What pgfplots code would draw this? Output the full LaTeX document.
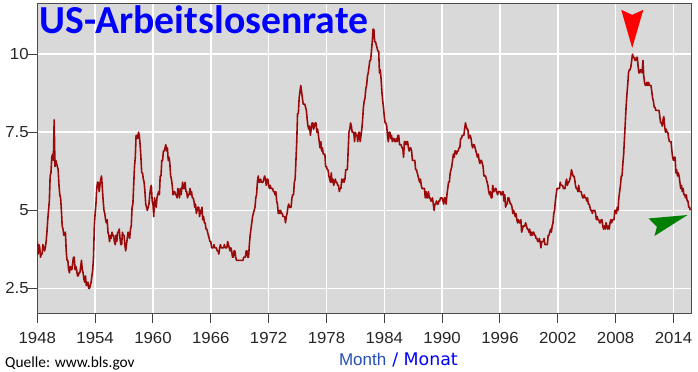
\documentclass[border=0pt]{standalone}
\usepackage{pgfplots}
\pgfplotsset{compat=1.18}
\usepackage{pgfplotstable}
\usepackage{fontspec}
\usetikzlibrary{calc}
\setmainfont{DejaVu Sans}
\newfontfamily\titlefont{Carlito}
\newfontfamily\tickfont[FakeStretch=1.05]{Liberation Sans}
\newfontfamily\arialfont{Liberation Sans}
\definecolor{bggray}{RGB}{217,217,217}
\definecolor{linered}{RGB}{155,10,10}
\definecolor{monthblue}{RGB}{35,80,180}
\definecolor{arrowgreen}{RGB}{0,128,0}

\pgfplotstableread[row sep=\\]{
y\\
4.0\\3.6\\3.9\\3.8\\3.5\\3.6\\3.6\\3.9\\3.8\\3.7\\3.8\\4.0\\
4.3\\4.7\\5.0\\5.3\\6.1\\6.2\\6.7\\6.8\\6.6\\7.9\\6.4\\6.6\\
6.5\\6.4\\6.3\\5.8\\5.5\\5.4\\5.0\\4.5\\4.4\\4.2\\4.2\\4.3\\
3.7\\3.4\\3.4\\3.1\\3.0\\3.2\\3.1\\3.1\\3.3\\3.5\\3.5\\3.1\\
3.2\\3.1\\2.9\\2.9\\3.0\\3.0\\3.2\\3.4\\3.1\\3.0\\2.8\\2.7\\
2.9\\2.6\\2.6\\2.7\\2.5\\2.5\\2.6\\2.7\\2.9\\3.1\\3.5\\4.5\\
4.9\\5.2\\5.7\\5.9\\5.9\\5.6\\5.8\\6.0\\6.1\\5.7\\5.3\\5.0\\
4.9\\4.7\\4.6\\4.7\\4.3\\4.2\\4.0\\4.2\\4.1\\4.3\\4.2\\4.2\\
4.0\\3.9\\4.2\\4.0\\4.3\\4.3\\4.4\\4.1\\3.9\\3.9\\4.3\\4.2\\
4.2\\3.9\\3.7\\3.9\\4.1\\4.3\\4.2\\4.1\\4.4\\4.5\\5.1\\5.2\\
5.8\\6.4\\6.7\\7.4\\7.4\\7.3\\7.5\\7.4\\7.1\\6.7\\6.2\\6.2\\
6.0\\5.9\\5.6\\5.2\\5.1\\5.0\\5.1\\5.2\\5.5\\5.7\\5.8\\5.3\\
5.2\\4.8\\5.4\\5.2\\5.1\\5.4\\5.5\\5.6\\5.5\\6.1\\6.1\\6.6\\
6.6\\6.9\\6.9\\7.0\\7.1\\6.9\\7.0\\6.6\\6.7\\6.5\\6.1\\6.0\\
5.8\\5.5\\5.6\\5.6\\5.5\\5.5\\5.4\\5.7\\5.6\\5.4\\5.7\\5.5\\
5.7\\5.9\\5.7\\5.7\\5.9\\5.6\\5.6\\5.4\\5.5\\5.5\\5.7\\5.5\\
5.6\\5.4\\5.4\\5.3\\5.1\\5.2\\4.9\\5.0\\5.1\\5.1\\4.8\\5.0\\
4.9\\5.1\\4.7\\4.8\\4.6\\4.6\\4.4\\4.4\\4.3\\4.2\\4.1\\4.0\\
4.0\\3.8\\3.8\\3.8\\3.9\\3.8\\3.8\\3.8\\3.7\\3.7\\3.6\\3.8\\
3.9\\3.8\\3.8\\3.8\\3.8\\3.9\\3.8\\3.8\\3.8\\4.0\\3.9\\3.8\\
3.7\\3.8\\3.7\\3.5\\3.5\\3.7\\3.7\\3.5\\3.4\\3.4\\3.4\\3.4\\
3.4\\3.4\\3.4\\3.4\\3.4\\3.5\\3.5\\3.5\\3.7\\3.7\\3.5\\3.5\\
3.9\\4.2\\4.4\\4.6\\4.8\\4.9\\5.0\\5.1\\5.4\\5.5\\5.9\\6.1\\
5.9\\5.9\\6.0\\5.9\\5.9\\5.9\\6.0\\6.1\\6.0\\5.8\\6.0\\6.0\\
5.8\\5.7\\5.8\\5.7\\5.7\\5.7\\5.6\\5.6\\5.5\\5.6\\5.3\\5.2\\
4.9\\5.0\\4.9\\5.0\\4.9\\4.9\\4.8\\4.8\\4.8\\4.6\\4.8\\4.9\\
5.1\\5.2\\5.1\\5.1\\5.1\\5.4\\5.5\\5.5\\5.9\\6.0\\6.6\\7.2\\
8.1\\8.1\\8.6\\8.8\\9.0\\8.8\\8.6\\8.4\\8.4\\8.4\\8.3\\8.2\\
7.9\\7.7\\7.6\\7.7\\7.4\\7.6\\7.8\\7.8\\7.6\\7.7\\7.8\\7.8\\
7.5\\7.6\\7.4\\7.2\\7.0\\7.2\\6.9\\7.0\\6.8\\6.8\\6.8\\6.4\\
6.4\\6.3\\6.3\\6.1\\6.0\\5.9\\6.2\\5.9\\6.0\\5.8\\5.9\\6.0\\
5.9\\5.9\\5.8\\5.8\\5.6\\5.7\\5.7\\6.0\\5.9\\6.0\\5.9\\6.0\\
6.3\\6.3\\6.3\\6.9\\7.5\\7.6\\7.8\\7.7\\7.5\\7.5\\7.5\\7.2\\
7.5\\7.4\\7.4\\7.2\\7.5\\7.5\\7.2\\7.4\\7.6\\7.9\\8.3\\8.5\\
8.6\\8.9\\9.0\\9.3\\9.4\\9.6\\9.8\\9.8\\10.1\\10.4\\10.8\\10.8\\
10.4\\10.4\\10.3\\10.2\\10.1\\10.1\\9.4\\9.5\\9.2\\8.8\\8.5\\8.3\\
8.0\\7.8\\7.8\\7.7\\7.4\\7.2\\7.5\\7.5\\7.3\\7.4\\7.2\\7.3\\
7.3\\7.2\\7.2\\7.3\\7.2\\7.4\\7.4\\7.1\\7.1\\7.1\\7.0\\7.0\\
6.7\\7.2\\7.2\\7.1\\7.2\\7.2\\7.0\\6.9\\7.0\\7.0\\6.9\\6.6\\
6.6\\6.6\\6.6\\6.3\\6.3\\6.2\\6.1\\6.0\\5.9\\6.0\\5.8\\5.7\\
5.7\\5.7\\5.7\\5.4\\5.6\\5.4\\5.4\\5.6\\5.4\\5.4\\5.3\\5.3\\
5.4\\5.2\\5.0\\5.2\\5.2\\5.3\\5.2\\5.2\\5.3\\5.3\\5.4\\5.4\\
5.4\\5.3\\5.2\\5.4\\5.4\\5.2\\5.5\\5.7\\5.9\\5.9\\6.2\\6.3\\
6.4\\6.6\\6.8\\6.7\\6.9\\6.9\\6.8\\6.9\\6.9\\7.0\\7.0\\7.3\\
7.3\\7.4\\7.4\\7.4\\7.6\\7.8\\7.7\\7.6\\7.6\\7.3\\7.4\\7.4\\
7.3\\7.1\\7.0\\7.1\\7.1\\7.0\\6.9\\6.8\\6.7\\6.8\\6.6\\6.5\\
6.6\\6.6\\6.5\\6.4\\6.1\\6.1\\6.1\\6.0\\5.9\\5.8\\5.6\\5.5\\
5.6\\5.4\\5.4\\5.8\\5.6\\5.6\\5.7\\5.7\\5.6\\5.5\\5.6\\5.6\\
5.6\\5.5\\5.5\\5.6\\5.6\\5.3\\5.5\\5.1\\5.2\\5.2\\5.4\\5.4\\
5.3\\5.2\\5.2\\5.1\\4.9\\5.0\\4.9\\4.8\\4.9\\4.7\\4.6\\4.7\\
4.6\\4.6\\4.7\\4.3\\4.4\\4.5\\4.5\\4.5\\4.6\\4.5\\4.4\\4.4\\
4.3\\4.4\\4.2\\4.3\\4.2\\4.3\\4.3\\4.2\\4.2\\4.1\\4.1\\4.0\\
4.0\\4.1\\4.0\\3.8\\4.0\\4.0\\4.0\\4.1\\3.9\\3.9\\3.9\\3.9\\
4.2\\4.2\\4.3\\4.4\\4.3\\4.5\\4.6\\4.9\\5.0\\5.3\\5.5\\5.7\\
5.7\\5.7\\5.7\\5.9\\5.8\\5.8\\5.8\\5.7\\5.7\\5.7\\5.9\\6.0\\
5.8\\5.9\\5.9\\6.0\\6.1\\6.3\\6.2\\6.1\\6.1\\6.0\\5.8\\5.7\\
5.7\\5.6\\5.8\\5.6\\5.6\\5.6\\5.5\\5.4\\5.4\\5.5\\5.4\\5.4\\
5.3\\5.4\\5.2\\5.2\\5.1\\5.0\\5.0\\4.9\\5.0\\5.0\\5.0\\4.9\\
4.7\\4.8\\4.7\\4.7\\4.6\\4.6\\4.7\\4.7\\4.5\\4.4\\4.5\\4.4\\
4.6\\4.5\\4.4\\4.5\\4.4\\4.6\\4.7\\4.6\\4.7\\4.7\\4.7\\5.0\\
5.0\\4.9\\5.1\\5.0\\5.4\\5.6\\5.8\\6.1\\6.1\\6.5\\6.8\\7.3\\
7.8\\8.3\\8.7\\9.0\\9.4\\9.5\\9.5\\9.6\\9.8\\10.0\\9.9\\9.9\\
9.8\\9.8\\9.9\\9.9\\9.6\\9.4\\9.4\\9.5\\9.5\\9.4\\9.8\\9.3\\
9.1\\9.0\\9.0\\9.1\\9.0\\9.1\\9.0\\9.0\\9.0\\8.8\\8.6\\8.5\\
8.3\\8.3\\8.2\\8.2\\8.2\\8.2\\8.2\\8.0\\7.8\\7.8\\7.7\\7.9\\
8.0\\7.7\\7.5\\7.6\\7.5\\7.5\\7.3\\7.2\\7.2\\7.2\\6.9\\6.7\\
6.6\\6.7\\6.7\\6.2\\6.3\\6.1\\6.2\\6.1\\5.9\\5.7\\5.8\\5.6\\
5.7\\5.5\\5.5\\5.4\\5.5\\5.3\\5.3\\5.1\\5.1\\5.0\\
}\unrate

\begin{document}
\begin{tikzpicture}
\begin{axis}[
  name=ax,
  scale only axis,
  width=654bp, height=310.4bp,
  xmin=1948, xmax=2015.85,
  ymin=1.69, ymax=11.63,
  axis background/.style={fill=bggray},
  grid=major,
  major grid style={white, line width=1.6bp},
  xtick={1948,1954,1960,1966,1972,1978,1984,1990,1996,2002,2008,2014},
  xticklabels={1948,1954,1960,1966,1972,1978,1984,1990,1996,2002,2008,2014},
  ytick={2.5,5,7.5,10},
  yticklabels={2.5,5,7.5,10},
  tick align=outside,
  tick pos=left,
  major tick length=9bp,
  axis line style={draw=black!70, line width=1.3bp},
  every tick/.style={black!75, line width=1bp},
  /pgf/number format/assume math mode=true,
  tick label style={font=\tickfont\fontsize{16bp}{18bp}\selectfont, text=black!85},
  xticklabel style={yshift=-6bp},
  yticklabel style={anchor=east, inner sep=0pt, xshift=0.5bp},
  clip=true,
]
\addplot[linered, line width=1.6bp, line join=round, no markers]
  table[x expr={1948+\coordindex/12}, y=y] {\unrate};
% annotation arrows
\fill[red] (axis cs:2008.58,11.42) -- (axis cs:2009.72,11.26) -- (axis cs:2010.87,11.42) -- (axis cs:2009.72,10.20) -- cycle;
\fill[arrowgreen] (axis cs:2015.46,4.85) -- (axis cs:2011.41,4.74) -- (axis cs:2012.28,4.47) -- (axis cs:2012.03,4.18) -- cycle;
\end{axis}
\pgfresetboundingbox
\path[use as bounding box] ($(ax.south west)+(-37.3bp,-58.3bp)$) rectangle ($(ax.north east)+(6.7bp,3.3bp)$);
\node[anchor=base west, inner sep=0pt, text=blue, font=\titlefont\bfseries\fontsize{39.7bp}{41bp}\selectfont]
  at ($(ax.north west)+(2.5bp,-30.5bp)$) {US-Arbeitslosenrate};
\node[anchor=base west, inner sep=0pt, font=\titlefont\fontsize{15.4bp}{17bp}\selectfont]
  at ($(ax.south west)+(-32.3bp,-53.5bp)$) {Quelle: www.bls.gov};
\node[anchor=base west, inner sep=0pt]
  at ($(ax.south west)+(301.5bp,-51.8bp)$) {\textcolor{monthblue}{\arialfont\fontsize{17bp}{19bp}\selectfont Month}\hspace{6bp}\textcolor{blue}{\fontsize{17.4bp}{19bp}\selectfont / Monat}};
\end{tikzpicture}
\end{document}
